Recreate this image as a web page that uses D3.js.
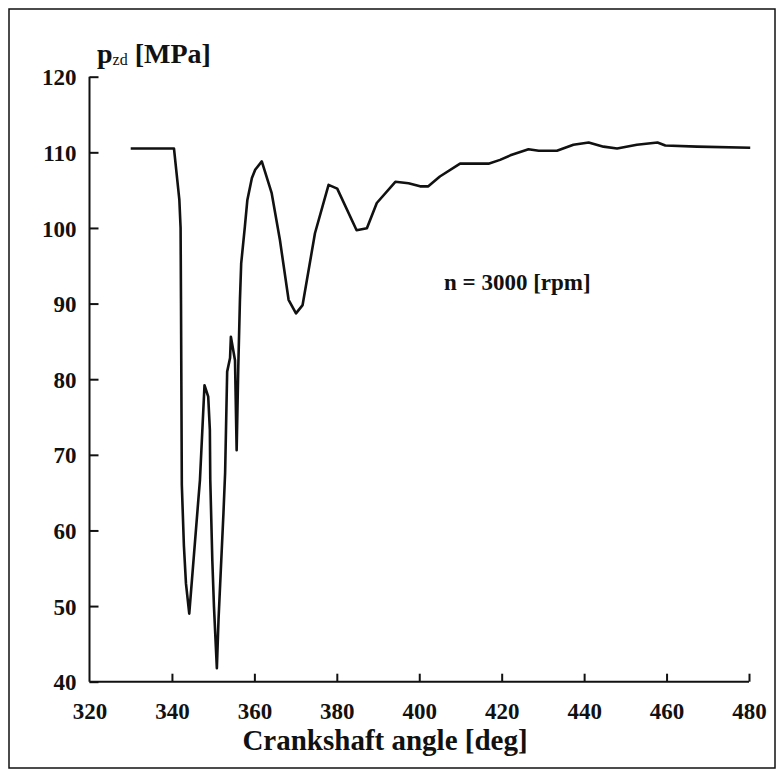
<!DOCTYPE html>
<html>
<head>
<meta charset="utf-8">
<script src="https://cdn.jsdelivr.net/npm/d3@7"></script>
<style>
  html, body { margin: 0; padding: 0; background: #fff; }
  svg { display: block; }
  text { font-family: "Liberation Serif", "Times New Roman", serif; font-weight: bold; fill: #111; }
</style>
</head>
<body>
<svg id="chart" width="779" height="771"></svg>
<script>
// Crankshaft angle [deg]
const angles = [330, 340.5, 341.8, 342.1, 342.2, 342.4, 342.9, 343.4, 344.2, 346.4, 346.8, 347.9, 348.8, 349.2, 349.3, 349.8, 350.2, 350.9, 351.3, 352.5, 352.9, 353.4, 354.1, 354.3, 355.3, 355.7, 356.1, 356.5, 356.8, 357.7, 358.3, 359.4, 360.2, 361.8, 364.2, 366.2, 368.3, 370.1, 371.7, 374.7, 378.0, 380.1, 384.8, 387.3, 389.7, 394.2, 397.4, 400.2, 402.2, 405.0, 409.9, 416.8, 419.6, 422.1, 426.5, 429.0, 433.4, 437.4, 441.1, 444.7, 448.0, 452.8, 457.8, 459.7, 467.4, 480.3];
// p_zd [MPa]
const pressure = [110.5, 110.5, 103.7, 100, 90, 66, 58, 53, 49.0, 64, 66.7, 79.2, 77.7, 73.3, 66.7, 56, 49.9, 41.8, 48.2, 62.3, 67.6, 81, 82.8, 85.6, 82.5, 70.6, 81.7, 90.5, 95.3, 100.2, 103.7, 106.6, 107.7, 108.8, 104.6, 98.4, 90.5, 88.7, 89.8, 99.3, 105.7, 105.2, 99.7, 99.95, 103.3, 106.1, 105.9, 105.5, 105.5, 106.8, 108.5, 108.5, 109.0, 109.6, 110.4, 110.2, 110.2, 111.0, 111.3, 110.75, 110.5, 111.0, 111.3, 110.9, 110.75, 110.6];
const xTicks = [320, 340, 360, 380, 400, 420, 440, 460, 480];
const yTicks = [40, 50, 60, 70, 80, 90, 100, 110, 120];
const xTitle = "Crankshaft angle [deg]";
const annotation = "n = 3000 [rpm]";

const svg = d3.select("#chart");

// outer frame
svg.append("rect")
  .attr("x", 9).attr("y", 9).attr("width", 766).attr("height", 759)
  .attr("fill", "none").attr("stroke", "#111").attr("stroke-width", 1.5);

const x = d3.scaleLinear().domain([320, 480]).range([89.5, 749]);
const y = d3.scaleLinear().domain([40, 120]).range([681.7, 76.7]);

// y axis
const yAxis = d3.axisLeft(y).tickValues(yTicks).tickSize(-9).tickPadding(13).tickFormat(d3.format("d"));
const gy = svg.append("g").attr("transform", `translate(${x(320)},0)`).call(yAxis);
gy.select(".domain").attr("stroke", "#111").attr("stroke-width", 2).attr("d", `M0,${y(40)}V${y(120)}`);
gy.selectAll(".tick line").attr("stroke", "#111").attr("stroke-width", 2);
gy.selectAll(".tick text").attr("font-size", 23).attr("font-family", "Liberation Serif, serif").attr("font-weight", "bold").attr("fill", "#111").attr("dy", "0.35em");

// x axis
const xAxis = d3.axisBottom(x).tickValues(xTicks).tickSize(-8).tickPadding(21).tickFormat(d3.format("d"));
const gx = svg.append("g").attr("transform", `translate(0,${y(40)})`).call(xAxis);
gx.select(".domain").attr("stroke", "#111").attr("stroke-width", 2).attr("d", `M${x(320)},0H${x(480)}`);
gx.selectAll(".tick line").attr("stroke", "#111").attr("stroke-width", 2);
gx.selectAll(".tick").filter(d => d === 320).select("line").remove();
gx.selectAll(".tick text").attr("font-size", 23).attr("font-family", "Liberation Serif, serif").attr("font-weight", "bold").attr("fill", "#111");

// curve
const line = d3.line().x((d, i) => x(angles[i])).y(d => y(d));
svg.append("path")
  .datum(pressure)
  .attr("d", line)
  .attr("fill", "none")
  .attr("stroke", "#111")
  .attr("stroke-width", 2.6)
  .attr("stroke-linejoin", "round");

// y title
const yt = svg.append("text").attr("x", 97).attr("y", 63).attr("font-size", 28);
yt.append("tspan").text("p");
yt.append("tspan").attr("font-size", 16).attr("font-weight", "normal").attr("dy", 2).text("zd");
yt.append("tspan").attr("dy", -2).text(" [MPa]");

// x title
svg.append("text")
  .attr("x", 385).attr("y", 750)
  .attr("text-anchor", "middle")
  .attr("font-size", 29)
  .text(xTitle);

// annotation
svg.append("text")
  .attr("x", 444).attr("y", 290)
  .attr("font-size", 23)
  .text(annotation);
</script>
</body>
</html>
